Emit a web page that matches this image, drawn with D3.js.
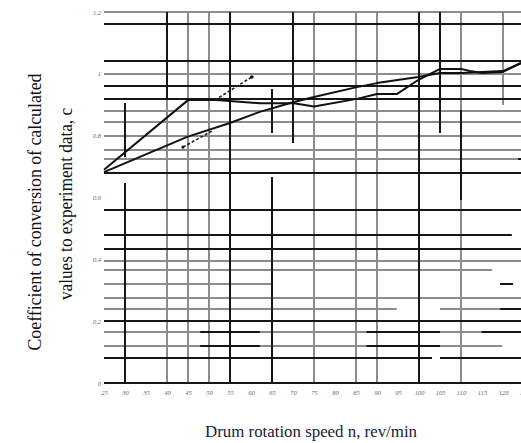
<!DOCTYPE html>
<html><head><meta charset="utf-8">
<script src="https://cdn.jsdelivr.net/npm/d3@7"></script>
<style>
html,body{margin:0;padding:0;background:#fff;overflow:hidden}
svg{display:block}
</style></head><body>
<svg id="chart" width="521" height="443"></svg>
<script>
// ---- data ----
const xTickValues = [25,30,35,40,45,50,55,60,65,70,75,80,85,90,95,100,105,110,115,120,125];
const yTickValues = [0,0.2,0.4,0.6,0.8,1,1.2];

// steep-start series: [n, c]
const seriesSteep = [[25,0.69],[45,0.915],[51.7,0.915],[62.1,0.905],[70.2,0.905],[75,0.894],[85.2,0.919],[90,0.935],[94.8,0.935],[99.8,0.98],[105,1.016],[110,1.016],[112.1,1.009],[115,1.003],[120,1.006],[124.3,1.035]];
// shallow series
const seriesShallow = [[25,0.682],[44.8,0.796],[55,0.841],[62.1,0.877],[70.2,0.909],[75,0.925],[85.2,0.957],[90,0.97],[99.8,0.99],[105,1.003],[110,1.003],[115,1.006],[120,1.009],[124.3,1.035]];
// dashed segments
const dashedUpper = [[51.4,0.915],[60.2,0.99]];
const dashedLower = [[43.8,0.763],[50.7,0.815]];

// grid: horizontal [c, nFrom, nTo], vertical [n, cFrom, cTo]
const hGridLight = [[1.2,25,125],[1.0,25,125],[0.88,25,125],[0.845,25,125],[0.8,25,125],[0.755,25,125],[0.725,25,125],
  [0.395,25,125],[0.365,25,117.4],[0.32,25,65],[0.275,25,125],[0.24,25,94.7],[0.24,105,119.3],[0.165,25,125],[0.12,25,119.8]];
const hGridDark = [[1.16,25,125],[1.04,25,125],[0.96,25,125],[0.92,25,125],[0.68,25,125],[0.56,25,125],[0.48,25,122.1],
  [0.435,25,125],[0.2,25,125],[0.08,25,103.1],[0.08,105,125],[0,25,125],
  [0.725,123.6,125],[0.32,119.3,122.4],[0.24,119.3,125],[0.165,47.9,62.1],[0.165,87.5,105],[0.165,114.9,125],
  [0.12,47.9,62.1],[0.12,87.5,105]];
const vGridLight = [[40,0,0.915],[45,0,1.2],[50,0,1.2],[75,0,1.2],[85,0,1.2],[90,0,1.2],[110,0,1.2],[120,0.899,1.2]];
const vGridDark = [[30,0.731,0.906],[30,0,0.647],[40,0.915,1.2],[55,0,1.2],[65,0.809,0.951],[65,0,0.666],[70,0.776,1.2],
  [100,0,1.2],[105,0.809,1.2],[110,0.592,0.883]];

// ---- chart ----
const svg = d3.select('#chart');
const x = d3.scaleLinear().domain([25,125]).range([104,524]);
const y = d3.scaleLinear().domain([0,1.2]).range([383,12]);

const g = svg.append('g');

function hLines(data, color, w){
  g.append('g').selectAll('line').data(data).join('line')
    .attr('x1',d=>x(d[1])).attr('x2',d=>x(d[2]))
    .attr('y1',d=>Math.round(y(d[0]))).attr('y2',d=>Math.round(y(d[0])))
    .attr('stroke',color).attr('stroke-width',w);
}
function vLines(data, color, w){
  g.append('g').selectAll('line').data(data).join('line')
    .attr('x1',d=>Math.round(x(d[0]))).attr('x2',d=>Math.round(x(d[0])))
    .attr('y1',d=>y(d[1])).attr('y2',d=>y(d[2]))
    .attr('stroke',color).attr('stroke-width',w);
}
hLines(hGridLight,'#8c8c8c',2);
vLines(vGridLight,'#8c8c8c',2);
hLines(hGridDark,'#161616',2);
vLines(vGridDark,'#161616',2);

const line = d3.line().x(d=>x(d[0])).y(d=>y(d[1]));
[seriesSteep, seriesShallow].forEach(s=>{
  g.append('path').datum(s).attr('d',line).attr('fill','none')
    .attr('stroke','#111').attr('stroke-width',2).attr('stroke-linejoin','round');
});
[dashedUpper, dashedLower].forEach(s=>{
  g.append('path').datum(s).attr('d',line).attr('fill','none')
    .attr('stroke','#222').attr('stroke-width',1.6).attr('stroke-dasharray','3,2');
});
g.append('circle').attr('cx',x(dashedUpper[1][0])).attr('cy',y(dashedUpper[1][1])).attr('r',1.8).attr('fill','#111');
g.append('circle').attr('cx',x(dashedLower[0][0])).attr('cy',y(dashedLower[0][1])).attr('r',1.6).attr('fill','#111');

// axes (labels only)
const xa = svg.append('g').attr('transform','translate(0,383)')
  .call(d3.axisBottom(x).tickValues(xTickValues).tickSize(0).tickPadding(7).tickFormat(d3.format('d')));
const ya = svg.append('g').attr('transform','translate(103,0)')
  .call(d3.axisLeft(y).tickValues(yTickValues).tickSize(0).tickPadding(2).tickFormat(d3.format('~g')));
[xa,ya].forEach(a=>{
  a.select('.domain').remove();
  a.selectAll('text').attr('font-family','Liberation Serif').attr('font-style','italic')
    .attr('font-size',6.5).attr('fill','#666');
});

// titles
const yt = svg.append('g').attr('font-family','Liberation Serif').attr('fill','#111').attr('font-size',19);
yt.append('text').attr('transform','translate(41,212) rotate(-90)').attr('text-anchor','middle')
  .attr('textLength',277).attr('lengthAdjust','spacingAndGlyphs').text('Coefficient of conversion of calculated');
yt.append('text').attr('transform','translate(72,204) rotate(-90)').attr('text-anchor','middle')
  .attr('textLength',192).attr('lengthAdjust','spacingAndGlyphs').text('values to experiment data, c');

svg.append('text').attr('font-family','Liberation Serif').attr('font-size',16).attr('text-anchor','middle')
  .attr('x',311).attr('y',437).attr('fill','#1a1a3a')
  .attr('textLength',212).attr('lengthAdjust','spacingAndGlyphs').text('Drum rotation speed n, rev/min');
</script>
</body></html>
